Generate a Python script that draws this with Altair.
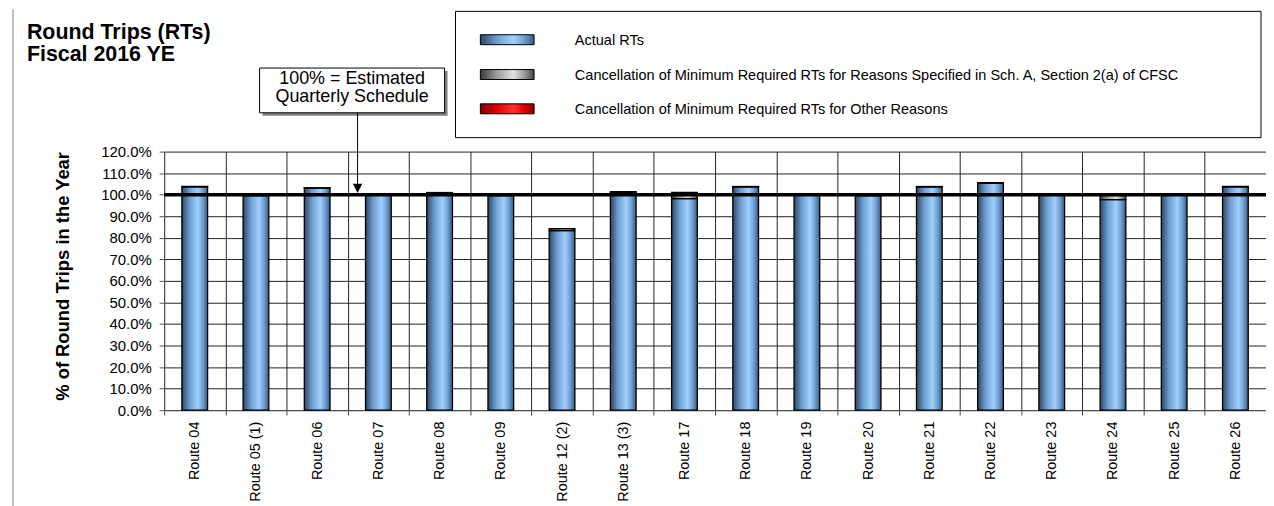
import altair as alt
import pandas as pd

# ---------------- data ----------------
routes = ["Route 04", "Route 05 (1)", "Route 06", "Route 07", "Route 08", "Route 09",
          "Route 12 (2)", "Route 13 (3)", "Route 17", "Route 18", "Route 19", "Route 20",
          "Route 21", "Route 22", "Route 23", "Route 24", "Route 25", "Route 26"]
actual_rts = [103.6, 99.6, 103.1, 99.7, 100.6, 99.6, 83.3, 100.9, 98.2, 103.6,
              99.7, 99.6, 103.6, 105.3, 99.7, 97.7, 99.7, 103.6]
cancel_sch_a = [0.2, 0.2, 0.1, 0.1, 0.4, 0.2, 0.9, 0.5, 2.9, 0.2,
                0.1, 0.2, 0.2, 0.3, 0.1, 2.1, 0.1, 0.2]
cancel_other = [0, 0, 0, 0, 0, 0, 0, 0, 0, 0, 0, 0, 0, 0, 0, 0, 0, 0]
series_names = ["Actual RTs",
                "Cancellation of Minimum Required RTs for Reasons Specified in Sch. A, Section 2(a) of CFSC",
                "Cancellation of Minimum Required RTs for Other Reasons"]
title_lines = ["Round Trips (RTs)", "Fiscal 2016 YE"]
note_lines = ["100% = Estimated", "Quarterly Schedule"]
y_title = "% of Round Trips in the Year"
y_ticks = [0, 10, 20, 30, 40, 50, 60, 70, 80, 90, 100, 110, 120]
reference_level = [100]

df = pd.DataFrame({"route": routes, "actual": actual_rts,
                   "sch_a": cancel_sch_a, "other": cancel_other})

# ---------------- layout / style ----------------
W, H = 1108, 260
FONT = "Liberation Sans"
GRID = "#222222"


def grad(edge_l, mid, edge_r, light):
    return alt.Gradient(
        gradient="linear", x1=0, x2=1, y1=0, y2=0,
        stops=[alt.GradientStop(offset=0, color=edge_l),
               alt.GradientStop(offset=0.3, color=mid),
               alt.GradientStop(offset=0.62, color=light),
               alt.GradientStop(offset=0.82, color=mid),
               alt.GradientStop(offset=1, color=edge_r)])


BLUE = grad("#2c4663", "#6f9dd0", "#3a5a7c", "#9fd0ff")
GREY = grad("#3a3a3a", "#9a9a9a", "#444444", "#e2e2e2")
RED = grad("#7a0000", "#e00000", "#8a0000", "#ff3030")

y_scale = alt.Scale(domain=[0, 120], nice=False, zero=True)
x_enc = alt.X("route:N", sort=routes,
              scale=alt.Scale(paddingInner=0, paddingOuter=0),
              axis=alt.Axis(title=None, labelAngle=-90, tickBand="extent", grid=True,
                            gridColor=GRID, gridWidth=1, domainColor="#555555",
                            tickColor="#555555", tickSize=5, labelFontSize=14.5,
                            labelFont=FONT, labelColor="black", labelPadding=6))
y_axis = alt.Axis(title=None, values=y_ticks, labelExpr="format(datum.value, '.1f') + '%'",
                  labelOverlap=False, grid=True, gridColor=GRID, gridWidth=1,
                  domainColor="#555555", tickColor="#555555", tickSize=5, labelFontSize=15,
                  labelFont=FONT, labelColor="black", labelPadding=8)

base = alt.Chart(df)
BAR_W = alt.RelativeBandSize(0.42)

blue = base.transform_calculate(lo="0", hi="datum.actual").mark_bar(
    fill=BLUE, stroke="black", strokeWidth=1.3, width=BAR_W).encode(
    x=x_enc, y=alt.Y("hi:Q", scale=y_scale, axis=y_axis), y2="lo:Q")

grey = base.transform_filter("datum.sch_a > 0").transform_calculate(
    lo="datum.actual", hi="datum.actual + datum.sch_a").mark_bar(
    fill=GREY, stroke="black", strokeWidth=1.3, width=BAR_W).encode(
    x=x_enc, y=alt.Y("hi:Q", scale=y_scale, axis=y_axis), y2="lo:Q")

red = base.transform_filter("datum.other > 0").transform_calculate(
    lo="datum.actual + datum.sch_a", hi="datum.actual + datum.sch_a + datum.other").mark_bar(
    fill=RED, stroke="black", strokeWidth=1.3, width=BAR_W).encode(
    x=x_enc, y=alt.Y("hi:Q", scale=y_scale, axis=y_axis), y2="lo:Q")

ref_rule = alt.Chart(pd.DataFrame({"level": reference_level})).mark_rule(
    color="black", strokeWidth=3.5).encode(y=alt.Y("level:Q", scale=y_scale, axis=y_axis))

one = pd.DataFrame({"k": [0]})

# outer frame (left edge)
frame = alt.Chart(one).mark_rule(color="#808080", strokeWidth=1).encode(
    x=alt.value(-152), y=alt.value(-143), y2=alt.value(H + 97))

# title
title_layers = [
    alt.Chart(one).mark_text(text=t, font=FONT, fontSize=21.5, fontWeight="bold",
                             align="left", baseline="alphabetic", color="black").encode(
        x=alt.value(-138), y=alt.value(yy))
    for t, yy in zip(title_lines, [-113.3, -91.2])
]

# y axis title
ytitle = alt.Chart(one).mark_text(text=y_title, font=FONT, fontSize=18.5, fontWeight="bold",
                                  angle=270, align="center", baseline="middle",
                                  color="black").encode(x=alt.value(-101.5), y=alt.value(125.5))

# annotation box
note_shadow = alt.Chart(one).mark_rect(fill="#808080").encode(
    x=alt.value(99), x2=alt.value(285), y=alt.value(-81), y2=alt.value(-36))
note_box = alt.Chart(one).mark_rect(fill="white", stroke="black", strokeWidth=1).encode(
    x=alt.value(96), x2=alt.value(282), y=alt.value(-84), y2=alt.value(-39))
note_text = [
    alt.Chart(one).mark_text(text=t, font=FONT, fontSize=18, align="center",
                             baseline="alphabetic", color="black").encode(
        x=alt.value(189), y=alt.value(yy))
    for t, yy in zip(note_lines, [-67.5, -49.5])
]
arrow_line = alt.Chart(one).mark_rule(color="black", strokeWidth=1).encode(
    x=alt.value(194.5), y=alt.value(-39), y2=alt.value(33))
arrow_head = alt.Chart(one).mark_point(shape="M-1,-1L1,-1L0,1Z", filled=True, fill="black",
                                       opacity=1, size=90, strokeWidth=0).encode(
    x=alt.value(194.5), y=alt.value(37))

# legend
leg_box = alt.Chart(one).mark_rect(fill="white", stroke="black", strokeWidth=1).encode(
    x=alt.value(293), x2=alt.value(1103), y=alt.value(-141), y2=alt.value(-14))
leg_layers = []
for name, fill, yy in zip(series_names, [BLUE, GREY, RED], [-112.5, -77.5, -43]):
    leg_layers.append(alt.Chart(one).mark_rect(fill=fill, stroke="black", strokeWidth=1).encode(
        x=alt.value(318), x2=alt.value(372), y=alt.value(yy - 5), y2=alt.value(yy + 5)))
    leg_layers.append(alt.Chart(one).mark_text(text=name, font=FONT, fontSize=14.6,
                                               align="left", baseline="middle",
                                               color="black").encode(
        x=alt.value(413), y=alt.value(yy + 1.5)))

chart = alt.layer(
    blue, grey, red, ref_rule, frame, *title_layers, ytitle,
    note_shadow, note_box, *note_text, arrow_line, arrow_head,
    leg_box, *leg_layers
).properties(
    width=W, height=H,
    padding={"left": 157, "top": 143, "right": 0, "bottom": 97},
    autosize=alt.AutoSizeParams(type="none"),
    background="white",
).configure_view(strokeWidth=0)

chart.save("out.html", embed_options={"renderer": "svg", "actions": False})
